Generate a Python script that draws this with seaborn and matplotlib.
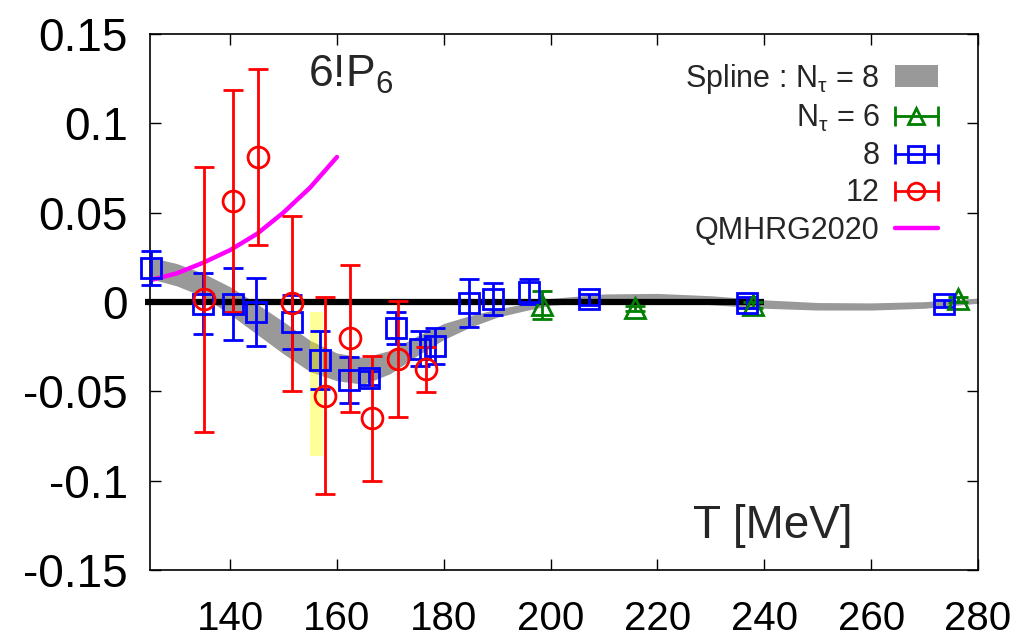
import matplotlib
matplotlib.use('Agg')
import matplotlib.pyplot as plt
import seaborn as sns
from matplotlib.patches import Patch
from matplotlib.lines import Line2D
from matplotlib.legend_handler import HandlerBase

# Spline band (N_tau = 8)
band_T = [125, 130, 135, 140, 145, 150, 155, 160, 165, 170, 175, 180,
          185, 190, 195, 200, 210, 220, 230, 240, 250, 260, 270, 280]
band_hi = [0.0250, 0.0215, 0.0160, 0.0085, -0.0010, -0.0110, -0.0215, -0.0285,
           -0.0310, -0.0270, -0.0190, -0.0120, -0.0075, -0.0040, -0.0010, 0.0020,
           0.0045, 0.0048, 0.0035, 0.0012, -0.0003, -0.0005, 0.0002, 0.0022]
band_lo = [0.0130, 0.0090, 0.0030, -0.0070, -0.0180, -0.0290, -0.0390, -0.0440,
           -0.0460, -0.0400, -0.0300, -0.0210, -0.0140, -0.0085, -0.0050, -0.0018,
           0.0001, 0.0002, -0.0015, -0.0035, -0.0045, -0.0045, -0.0035, -0.0007]

# N_tau = 6
nt6_T = [198.4, 215.8, 237.8, 276.3]
nt6_val = [-0.0017, -0.0035, -0.0017, 0.0015]
nt6_err = [0.0078, 0.0015, 0.0015, 0.0015]

# N_tau = 8
nt8_T = [125.2, 134.9, 140.6, 144.9, 151.5, 156.9, 162.3, 166.0, 171.1,
         175.5, 178.3, 184.7, 189.3, 195.9, 207.1, 236.8, 273.6]
nt8_val = [0.019, -0.001, -0.001, -0.0054, -0.011, -0.0324, -0.0436, -0.0426,
           -0.0147, -0.026, -0.0246, -0.0007, 0.0015, 0.0058, 0.0015, -0.0004, -0.001]
nt8_err = [0.0095, 0.017, 0.020, 0.019, 0.015, 0.016, 0.013, 0.004, 0.009,
           0.010, 0.010, 0.0135, 0.009, 0.007, 0.003, 0.003, 0.002]

# N_tau = 12
nt12_T = [135.1, 140.5, 145.2, 151.6, 157.7, 162.5, 166.6, 171.5, 176.6]
nt12_val = [0.0015, 0.0563, 0.081, -0.0007, -0.0523, -0.0203, -0.065, -0.0318, -0.0376]
nt12_err = [0.074, 0.062, 0.049, 0.049, 0.055, 0.041, 0.035, 0.0326, 0.0126]

# QMHRG2020
qm_T = [125.5, 130, 135, 140, 145, 150, 155, 160]
qm_val = [0.0125, 0.016, 0.022, 0.029, 0.038, 0.050, 0.064, 0.081]

# Tc band (yellow) and zero line
tc_T = [154.9, 157.4]
tc_lo = -0.086
tc_hi = -0.0055
zero_T = [124, 240]

xticks = [140, 160, 180, 200, 220, 240, 260, 280]
yticks = [-0.15, -0.1, -0.05, 0, 0.05, 0.1, 0.15]
ytick_labels = ['-0.15', '-0.1', '-0.05', '0', '0.05', '0.1', '0.15']

EW = 2.0  # error bar / marker edge width


class GnuErrHandler(HandlerBase):
    """gnuplot-like key: horizontal bar with end caps and a marker in the middle"""
    def __init__(self, marker, color, ms):
        super().__init__()
        self.marker, self.color, self.ms = marker, color, ms

    def create_artists(self, legend, orig_handle, xdescent, ydescent, width,
                       height, fontsize, trans):
        x0, x1 = -xdescent, -xdescent + width
        yc = -ydescent + height / 2
        bar = Line2D([x0, x1], [yc, yc], color=self.color, lw=EW)
        caps = Line2D([x0, x1], [yc, yc], ls='none', marker='|', ms=14,
                      mew=EW, color=self.color)
        mk = Line2D([(x0 + x1) / 2], [yc], ls='none', marker=self.marker,
                    ms=self.ms, mfc='none', mew=EW, color=self.color)
        for a in (bar, caps, mk):
            a.set_transform(trans)
        return [bar, caps, mk]


sns.set_theme(style="ticks")
plt.rcParams['font.family'] = ['Liberation Sans', 'DejaVu Sans']
plt.rcParams['mathtext.default'] = 'regular'

fig = plt.figure(figsize=(10.23, 6.42), dpi=100)
ax = fig.add_axes([0.1466, 0.1114, 0.8094, 0.8364])

ax.fill_between(band_T, band_lo, band_hi, color='#999999', lw=0, zorder=1)
ax.fill_between(tc_T, [tc_lo, tc_lo], [tc_hi, tc_hi], color='#ffff00', alpha=0.4, lw=0, zorder=2)
ax.plot(zero_T, [0, 0], color='black', lw=4.5, clip_on=False, zorder=3, solid_capstyle='butt')

sns.lineplot(x=qm_T, y=qm_val, color='#ff00ff', lw=3.2, ax=ax, zorder=4)

common = dict(linestyle='none', mfc='none', mew=EW, elinewidth=EW,
              capthick=EW, capsize=7, zorder=5, clip_on=False)
e6 = ax.errorbar(nt6_T, nt6_val, yerr=nt6_err, fmt='^', color='#007f00', ms=15, **common)
e8 = ax.errorbar(nt8_T, nt8_val, yerr=nt8_err, fmt='s', color='#0000ff', ms=14, **common)
e12 = ax.errorbar(nt12_T, nt12_val, yerr=nt12_err, fmt='o', color='#ff0000', ms=15, **common)
for cont in (e6, e8, e12):
    for art in cont.lines[1] + cont.lines[2]:
        art.set_clip_on(False)

band_handle = Patch(facecolor='#999999', edgecolor='none')
qm_handle = Line2D([], [], color='#ff00ff', lw=3.2)
ax.legend([band_handle, e6, e8, e12, qm_handle],
          ['Spline : N$_{τ}$ = 8', 'N$_{τ}$ = 6', '8', '12', 'QMHRG2020'],
          handler_map={e6: GnuErrHandler('^', '#007f00', 11),
                       e8: GnuErrHandler('s', '#0000ff', 11),
                       e12: GnuErrHandler('o', '#ff0000', 12)},
          loc='upper right', bbox_to_anchor=(0.966, 0.97), frameon=False,
          markerfirst=False, fontsize=22, handlelength=1.4, handletextpad=0.5,
          labelspacing=0.235, borderaxespad=0)

ax.text(162.5, 0.127, '6!P$_6$', fontsize=32, ha='center', va='center')
ax.text(241.5, -0.125, 'T [MeV]', fontsize=33, ha='center', va='center')

ax.set_xlim(125, 280)
ax.set_ylim(-0.15, 0.15)
ax.set_xticks(xticks)
ax.set_xticklabels([str(t) for t in xticks])
ax.set_yticks(yticks)
ax.set_yticklabels(ytick_labels)
ax.tick_params(direction='in', length=8, width=1, top=True, right=True,
               colors='black')
ax.tick_params(axis='x', pad=21, labelsize=29)
ax.tick_params(axis='y', pad=16, labelsize=33)
for sp in ax.spines.values():
    sp.set_color('black')
    sp.set_linewidth(1.2)
ax.set_facecolor('white')
fig.patch.set_facecolor('white')

fig.savefig('out.png', dpi=100)
